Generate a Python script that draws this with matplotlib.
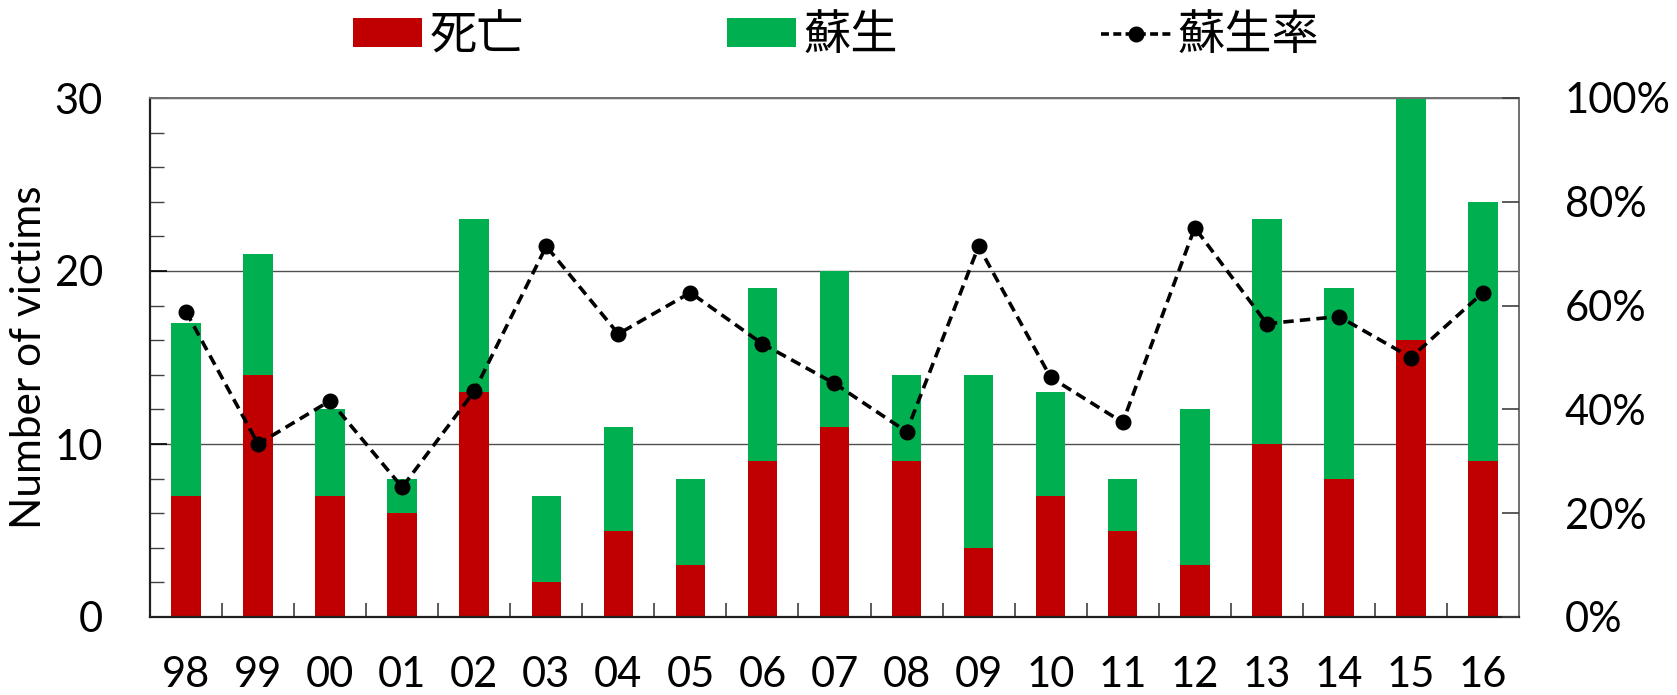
import matplotlib
matplotlib.use("Agg")
import matplotlib.pyplot as plt
from matplotlib.ticker import MultipleLocator, FuncFormatter
from matplotlib.lines import Line2D
from matplotlib.patches import Patch

plt.rcParams['font.family'] = ['Lato', 'Noto Sans CJK JP', 'DejaVu Sans']

years = ["98", "99", "00", "01", "02", "03", "04", "05", "06", "07",
         "08", "09", "10", "11", "12", "13", "14", "15", "16"]
deaths = [7, 14, 7, 6, 13, 2, 5, 3, 9, 11, 9, 4, 7, 5, 3, 10, 8, 16, 9]
revived = [10, 7, 5, 2, 10, 5, 6, 5, 10, 9, 5, 10, 6, 3, 9, 13, 11, 16, 15]
revival_rate = [r / (d + r) for d, r in zip(deaths, revived)]

RED = "#C00000"
GREEN = "#00B050"
DASH = (0, (2.9, 1.7))

fig = plt.figure(figsize=(16.77, 6.95), dpi=100)
ax = fig.add_axes([150 / 1677, 1 - 617 / 695, (1519 - 150) / 1677, (617 - 98) / 695])

x = list(range(len(years)))
ax.bar(x, deaths, width=0.41, color=RED, zorder=2)
ax.bar(x, revived, width=0.41, bottom=deaths, color=GREEN, zorder=2)

ax.set_xlim(-0.5, len(years) - 0.5)
ax.set_ylim(0, 30)
ax.yaxis.set_major_locator(MultipleLocator(10))
ax.yaxis.set_minor_locator(MultipleLocator(2))
ax.grid(axis='y', which='major', color='#505050', linewidth=1.0, zorder=1)
ax.set_xticks(x)
ax.set_xticklabels(years)
ax.set_xticks([i + 0.5 for i in x[:-1]], minor=True)
ax.tick_params(axis='x', which='major', length=0, pad=28, labelsize=30)
ax.tick_params(axis='x', which='minor', direction='in', length=10, width=1.2, color='#404040')
ax.tick_params(axis='y', which='major', direction='in', length=12, width=1.2, labelsize=30, pad=34)
ax.tick_params(axis='y', which='minor', direction='in', length=10, width=1.0, color='#404040')
ax.set_ylabel("Number of victims", fontsize=30.5, labelpad=4)
ax.yaxis.set_label_coords(-102 / 1369, 0.5)

for side in ['left', 'bottom']:
    ax.spines[side].set_color('#202020')
    ax.spines[side].set_linewidth(1.6)
for side in ['top', 'right']:
    ax.spines[side].set_color('#707070')
    ax.spines[side].set_linewidth(1.4)

ax2 = ax.twinx()
ax2.plot(x, revival_rate, color='black', linestyle=DASH, linewidth=2.6,
         marker='o', markersize=10.5, zorder=3)
ax2.set_ylim(0, 1)
ax2.yaxis.set_major_locator(MultipleLocator(0.2))
ax2.yaxis.set_major_formatter(FuncFormatter(lambda v, _: f"{v * 100:.0f}%"))
ax2.tick_params(axis='y', direction='in', length=12, width=1.2, color='#404040',
                labelsize=30, pad=33)
for side in ['top', 'right', 'left', 'bottom']:
    ax2.spines[side].set_visible(False)

handles = [
    Patch(facecolor=RED, label="死亡"),
    Patch(facecolor=GREEN, label="蘇生"),
    Line2D([0], [0], color='black', linestyle=(0, (2.2, 1.2)), linewidth=2.6,
           marker='o', markersize=10.5, label="蘇生率"),
]
fig.legend(handles=handles, loc='center left', bbox_to_anchor=(353 / 1677, 1 - 36 / 695),
           ncol=3, frameon=False, prop={'family': ['Noto Sans CJK JP'], 'size': 34},
           handlelength=1.47, handleheight=0.56, handletextpad=0.15, columnspacing=4.3,
           borderpad=0, borderaxespad=0)

fig.savefig("out.png", dpi=100)
